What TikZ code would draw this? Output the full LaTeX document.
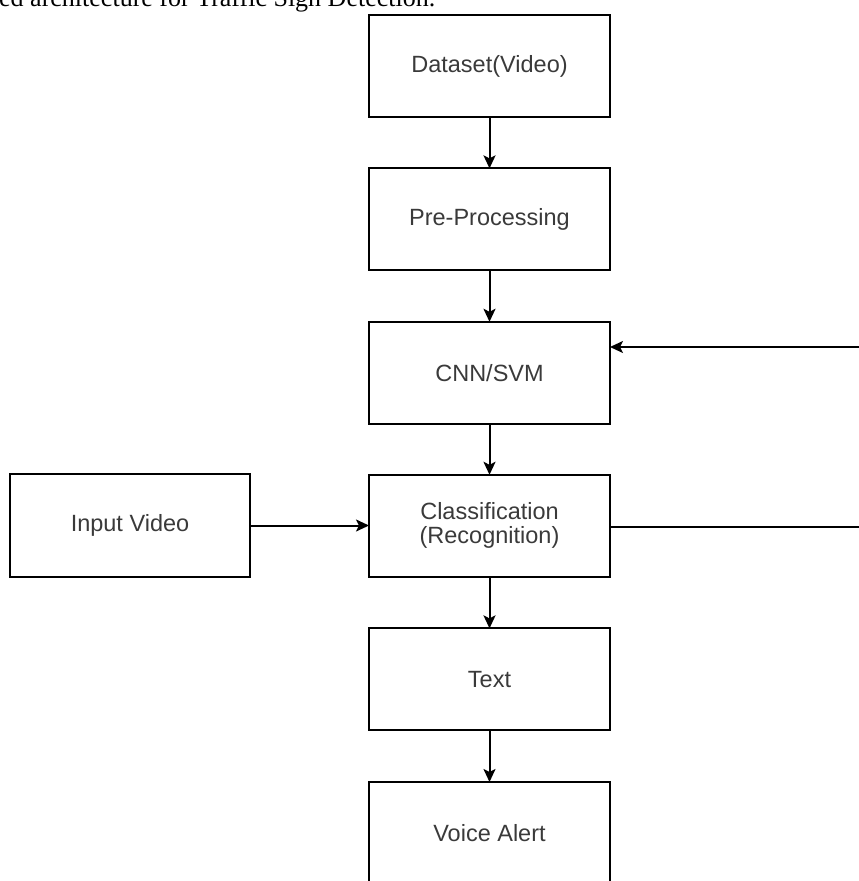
\documentclass[tikz,border=0pt]{standalone}
\usepackage{fontspec}
\setmainfont{Liberation Serif}
\newfontfamily\boxfont{Liberation Sans}
\usetikzlibrary{arrows.meta}
\definecolor{txtgray}{HTML}{3A3A3A}
\tikzset{
  box/.style={draw=black, line width=2pt, minimum width=241pt, minimum height=102pt,
    inner sep=0pt, outer sep=0pt, anchor=north west, align=center,
    font=\boxfont\fontsize{23.5}{24}\selectfont, text=txtgray},
  conn/.style={line width=2pt, -{Stealth[length=13pt,width=12pt,inset=3pt]}},
  plain/.style={line width=2pt}
}
\begin{document}
\begin{tikzpicture}[x=1pt,y=1pt]
\useasboundingbox (0,0) rectangle (859,-881);
\clip (0,0) rectangle (859,-881);
\node[anchor=base west, font=\fontsize{26}{28}\selectfont, inner sep=0pt] (cap) at (-1,-6.5) {ed architecture for Traffic Sign Detection.};
\node[box] (ds) at (369,-15) {Dataset(Video)};
\node[box] (pp) at (369,-168.4) {Pre-Processing};
\node[box] (cnn) at (369,-321.8) {CNN/SVM};
\node[box] (cls) at (369,-474.8) {Classification\\(Recognition)};
\node[box, minimum width=240pt, minimum height=103pt] (inp) at (10,-474) {Input Video};
\node[box] (txt) at (369,-628.4) {Text};
\node[box] (va) at (369,-782) {Voice Alert};
\coordinate (r1) at (862,-347);
\coordinate (r2) at (862,-527);
\draw[conn] (ds.south) -- (pp.north);
\draw[conn] (pp.south) -- (cnn.north);
\draw[conn] (cnn.south) -- (cls.north);
\draw[conn] (cls.south) -- (txt.north);
\draw[conn] (txt.south) -- (va.north);
\draw[conn] (inp.east) -- (inp.east -| cls.west);
\draw[conn] (r1) -- (r1 -| cnn.east);
\draw[plain] (cls.east |- r2) -- (r2);
\end{tikzpicture}
\end{document}
